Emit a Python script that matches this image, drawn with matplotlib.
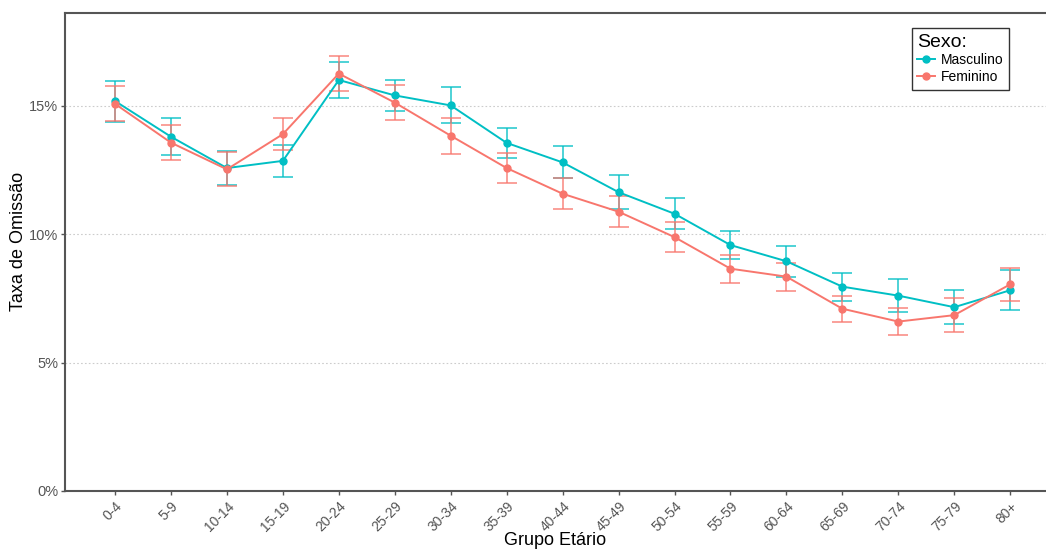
import matplotlib.pyplot as plt
from matplotlib.ticker import FuncFormatter
import numpy as np

plt.rcParams['font.family'] = ['Liberation Sans', 'DejaVu Sans']

grupos = ["0-4", "5-9", "10-14", "15-19", "20-24", "25-29", "30-34", "35-39",
          "40-44", "45-49", "50-54", "55-59", "60-64", "65-69", "70-74", "75-79", "80+"]

# taxa de omissão (%) e meia-amplitude do intervalo
masc = [15.19, 13.80, 12.58, 12.86, 16.01, 15.41, 15.02, 13.56,
        12.80, 11.64, 10.80, 9.58, 8.95, 7.96, 7.61, 7.16, 7.82]
masc_err = [0.80, 0.72, 0.66, 0.62, 0.69, 0.60, 0.70, 0.59,
            0.62, 0.65, 0.60, 0.53, 0.60, 0.54, 0.63, 0.67, 0.77]
fem = [15.08, 13.57, 12.53, 13.90, 16.26, 15.13, 13.84, 12.58,
       11.58, 10.88, 9.89, 8.66, 8.35, 7.10, 6.60, 6.85, 8.05]
fem_err = [0.68, 0.69, 0.66, 0.63, 0.69, 0.68, 0.70, 0.60,
           0.60, 0.60, 0.57, 0.54, 0.54, 0.50, 0.52, 0.65, 0.63]

cor_masc = "#00BFC4"
cor_fem = "#F8766D"

fig = plt.figure(figsize=(10.46, 5.52), dpi=100)
ax = fig.add_axes([65 / 1046, 1 - 491 / 552, (1046 - 65) / 1046, (491 - 13) / 552])

x = np.arange(len(grupos))

for vals, errs, cor, nome in [(masc, masc_err, cor_masc, "Masculino"),
                              (fem, fem_err, cor_fem, "Feminino")]:
    ax.errorbar(x, vals, yerr=errs, fmt="none", ecolor=cor, elinewidth=1.3,
                capsize=7, capthick=1.3, alpha=0.75, zorder=2)
    ax.plot(x, vals, color=cor, lw=1.4, marker="o", ms=5, label=nome, zorder=3)

ax.set_xlim(-0.894, 16.64)
ax.set_ylim(0, 18.62)
ax.set_yticks([0, 5, 10, 15])
ax.yaxis.set_major_formatter(FuncFormatter(lambda v, p: f"{v:.0f}%"))
ax.set_xticks(x)
ax.set_xticklabels(grupos, rotation=45, ha="right", rotation_mode="anchor")

ax.grid(axis="y", color="#cccccc", linestyle=(0, (1.5, 2)), lw=0.8)
ax.set_axisbelow(True)

for s in ["left", "bottom", "top"]:
    ax.spines[s].set_color("#555555")
    ax.spines[s].set_linewidth(1.5)
ax.spines["right"].set_visible(False)

ax.tick_params(axis="both", colors="#555555", length=3, width=1,
               labelsize=10.5, labelcolor="#555555")
ax.tick_params(axis="y", pad=2)
ax.tick_params(axis="x", pad=3, labelsize=10)

ax.set_xlabel("Grupo Etário", fontsize=13, va="center")
ax.xaxis.set_label_coords(0.4995, -0.1046)
ax.set_ylabel("Taxa de Omissão", fontsize=13, va="center")
ax.yaxis.set_label_coords(-0.0479, 0.523)

leg = ax.legend(title="Sexo:", loc="upper right",
                bbox_to_anchor=(1009 / 1046, 1 - 28 / 552),
                bbox_transform=fig.transFigure, borderaxespad=0,
                fontsize=10, title_fontsize=14, frameon=True, fancybox=False,
                handlelength=1.3, handletextpad=0.4, borderpad=0.4, labelspacing=0.2)
leg.get_frame().set_edgecolor("black")
leg.get_frame().set_linewidth(1.0)
leg._legend_box.align = "left"

fig.savefig("out.png", dpi=100)
